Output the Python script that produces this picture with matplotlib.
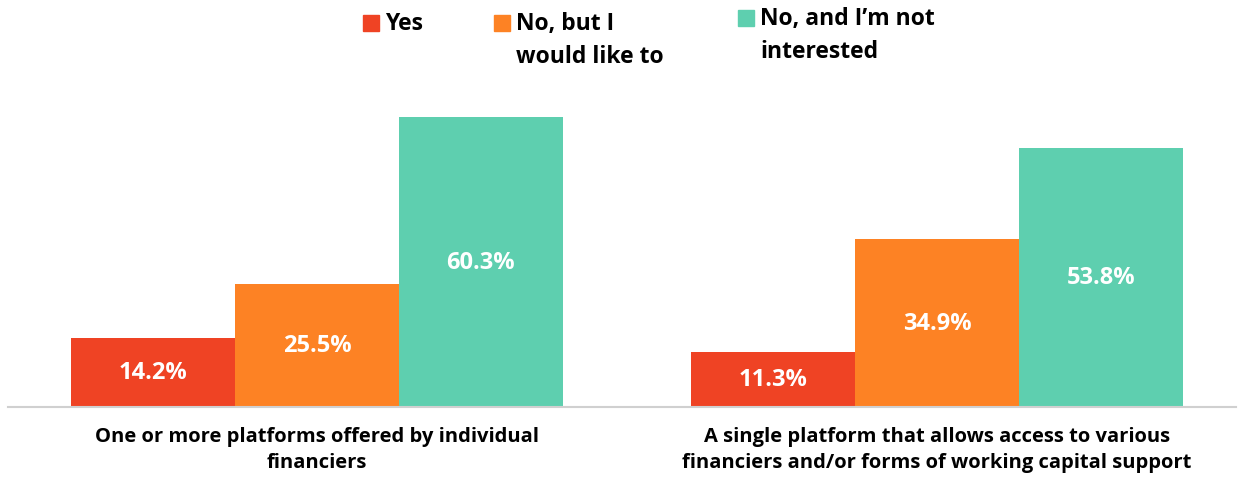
import matplotlib.pyplot as plt
from matplotlib.patches import Rectangle

plt.rcParams['font.family'] = ['Open Sans', 'DejaVu Sans']

# Datos de la encuesta
categorias = ['One or more platforms offered by individual\nfinanciers',
              'A single platform that allows access to various\nfinanciers and/or forms of working capital support']
series = ['Yes', 'No, but I\nwould like to', 'No, and I\u2019m not\ninterested']
valores = [
    [14.2, 11.3],
    [25.5, 34.9],
    [60.3, 53.8],
]
colores = ['#EF4324', '#FD8224', '#5ECFAF']

fig = plt.figure(figsize=(12.44, 4.81), dpi=100)
ax = fig.add_axes([8 / 1244, 73.5 / 481, 1228 / 1244, 327.5 / 481])

ancho = 0.2645
x = [0, 1]
for i, (serie, vals, col) in enumerate(zip(series, valores, colores)):
    pos = [xi + (i - 1) * ancho for xi in x]
    barras = ax.bar(pos, vals, width=ancho, color=col)
    for b, v in zip(barras, vals):
        ax.text(b.get_x() + b.get_width() / 2, v / 2, f'{v:.1f}%',
                ha='center', va='center', color='white',
                fontsize=17, fontweight='bold')

ax.set_xlim(-0.498, 1.482)
ax.set_ylim(0, 68.1)
ax.set_yticks([])
ax.set_xticks(x)
ax.set_xticklabels(categorias, fontsize=14.5, fontweight='bold', linespacing=1.4)
ax.tick_params(axis='x', length=0, pad=14)
for lado in ['top', 'left', 'right']:
    ax.spines[lado].set_visible(False)
ax.spines['bottom'].set_color('#d0d0d0')
ax.spines['bottom'].set_linewidth(1.5)

# Leyenda dibujada a mano en la parte superior
leyenda_x = [363, 494, 738]
leyenda_y = [24, 24, 19]
for lx, ly, serie, col in zip(leyenda_x, leyenda_y, series, colores):
    fig.add_artist(Rectangle((lx / 1244, 1 - (ly + 8) / 481), 16 / 1244, 16 / 481,
                             transform=fig.transFigure, color=col))
    fig.text((lx + 22) / 1244, 1 - (ly - 12) / 481, serie, ha='left', va='top',
             fontsize=16.5, fontweight='bold', linespacing=1.5)

fig.savefig('out.png', dpi=100)
